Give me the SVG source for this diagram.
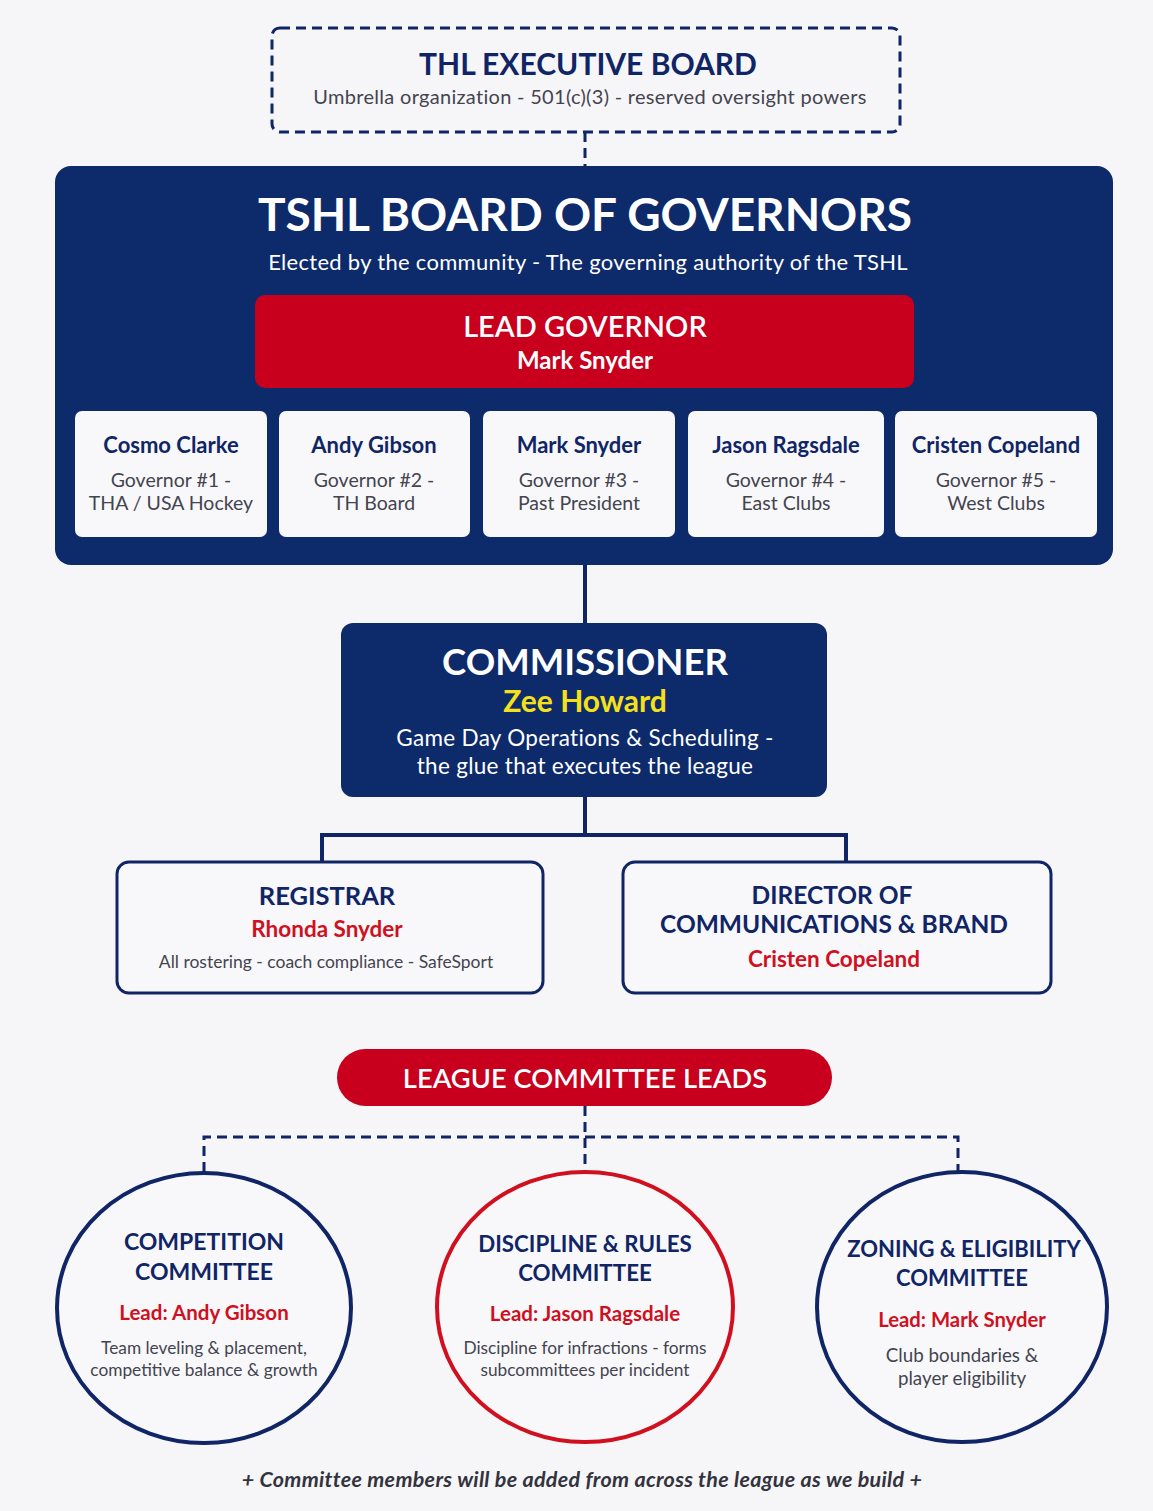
<svg xmlns="http://www.w3.org/2000/svg" width="1153" height="1511" viewBox="0 0 1153 1511">
<style>
text{font-family:Lato,"Open Sans","Liberation Sans",sans-serif;text-anchor:middle}
.navy{fill:#0d2a6b}
.red{fill:#c8001e}
.t-navy{fill:#102566;font-weight:700}
.t-red{fill:#d0101e;font-weight:700}
.t-grey{fill:#444450}
.t-white{fill:#ffffff}
.card{fill:#f8f8fa}
.dash{fill:none;stroke:#102566;stroke-width:3;stroke-dasharray:10 6}
.solid{fill:none;stroke:#102566;stroke-width:4}
</style>
<rect x="0" y="0" width="1153" height="1511" fill="#f6f6f8"/>

<g id="connectors">
<line class="dash" x1="585" y1="132" x2="585" y2="166"/>
<line class="solid" x1="585" y1="565" x2="585" y2="623"/>
<path class="solid" d="M585 797 V835 M322 835 H846 M322 833 V862 M846 833 V862"/>
<path class="dash" d="M585 1106 V1172 M204 1172 V1137 H958 V1172"/>
</g>

<g id="exec-board">
<rect x="272" y="28" width="628" height="104" rx="8" class="dash"/>
<text x="588" y="75" font-size="30" class="t-navy">THL EXECUTIVE BOARD</text>
<text x="590" y="104" font-size="20" letter-spacing="0.3" class="t-grey">Umbrella organization - 501(c)(3) - reserved oversight powers</text>
</g>

<g id="board-of-governors">
<rect x="55" y="166" width="1058" height="399" rx="16" class="navy"/>
<text x="585" y="231" font-size="46" font-weight="700" class="t-white">TSHL BOARD OF GOVERNORS</text>
<text x="588" y="270" font-size="22" letter-spacing="0.3" class="t-white">Elected by the community - The governing authority of the TSHL</text>
</g>

<g id="lead-governor">
<rect x="255" y="295" width="659" height="93" rx="10" class="red"/>
<text x="585" y="337" font-size="29" font-weight="600" class="t-white">LEAD GOVERNOR</text>
<text x="585" y="369" font-size="24" font-weight="700" class="t-white">Mark Snyder</text>
</g>

<g id="gov1">
<rect x="75" y="411" width="192" height="126" rx="7" class="card"/>
<text x="171" y="453" font-size="22" class="t-navy">Cosmo Clarke</text>
<text x="171" y="487" font-size="19.5" class="t-grey">Governor #1 -</text>
<text x="171" y="510" font-size="19.5" class="t-grey">THA / USA Hockey</text>
</g>
<g id="gov2">
<rect x="279" y="411" width="191" height="126" rx="7" class="card"/>
<text x="374" y="453" font-size="22" class="t-navy">Andy Gibson</text>
<text x="374" y="487" font-size="19.5" class="t-grey">Governor #2 -</text>
<text x="374" y="510" font-size="19.5" class="t-grey">TH Board</text>
</g>
<g id="gov3">
<rect x="483" y="411" width="192" height="126" rx="7" class="card"/>
<text x="579" y="453" font-size="22" class="t-navy">Mark Snyder</text>
<text x="579" y="487" font-size="19.5" class="t-grey">Governor #3 -</text>
<text x="579" y="510" font-size="19.5" class="t-grey">Past President</text>
</g>
<g id="gov4">
<rect x="688" y="411" width="196" height="126" rx="7" class="card"/>
<text x="786" y="453" font-size="22" class="t-navy">Jason Ragsdale</text>
<text x="786" y="487" font-size="19.5" class="t-grey">Governor #4 -</text>
<text x="786" y="510" font-size="19.5" class="t-grey">East Clubs</text>
</g>
<g id="gov5">
<rect x="895" y="411" width="202" height="126" rx="7" class="card"/>
<text x="996" y="453" font-size="22" class="t-navy">Cristen Copeland</text>
<text x="996" y="487" font-size="19.5" class="t-grey">Governor #5 -</text>
<text x="996" y="510" font-size="19.5" class="t-grey">West Clubs</text>
</g>

<g id="commissioner">
<rect x="341" y="623" width="486" height="174" rx="12" class="navy"/>
<text x="585" y="675" font-size="36.5" font-weight="700" class="t-white">COMMISSIONER</text>
<text x="585" y="712" font-size="30" font-weight="700" fill="#f5e11a">Zee Howard</text>
<text x="585" y="746" font-size="22.5" letter-spacing="0.3" class="t-white">Game Day Operations &amp; Scheduling -</text>
<text x="585" y="774" font-size="22.5" letter-spacing="0.3" class="t-white">the glue that executes the league</text>
</g>

<g id="registrar">
<rect x="117" y="862" width="426" height="131" rx="12" fill="#f8f8fa" stroke="#102566" stroke-width="3"/>
<text x="327" y="905" font-size="25.5" class="t-navy">REGISTRAR</text>
<text x="327" y="937" font-size="22.5" class="t-red">Rhonda Snyder</text>
<text x="326" y="968" font-size="17.5" class="t-grey">All rostering - coach compliance - SafeSport</text>
</g>

<g id="director-comms">
<rect x="623" y="862" width="428" height="131" rx="12" fill="#f8f8fa" stroke="#102566" stroke-width="3"/>
<text x="832" y="904" font-size="24.5" class="t-navy">DIRECTOR OF</text>
<text x="834" y="933" font-size="24.5" class="t-navy">COMMUNICATIONS &amp; BRAND</text>
<text x="834" y="967" font-size="22.5" class="t-red">Cristen Copeland</text>
</g>

<g id="league-committee-leads">
<rect x="337" y="1049" width="495" height="57" rx="28.5" class="red"/>
<text x="585" y="1088" font-size="27.3" font-weight="600" class="t-white">LEAGUE COMMITTEE LEADS</text>
</g>

<g id="competition-committee">
<ellipse cx="204" cy="1308" rx="147" ry="135" fill="#f8f8fa" stroke="#102566" stroke-width="4"/>
<text x="204" y="1250" font-size="23" class="t-navy">COMPETITION</text>
<text x="204" y="1280" font-size="23" class="t-navy">COMMITTEE</text>
<text x="204" y="1320" font-size="20.5" class="t-red">Lead: Andy Gibson</text>
<text x="204" y="1354" font-size="17.3" class="t-grey">Team leveling &amp; placement,</text>
<text x="204" y="1376" font-size="17.3" class="t-grey">competitive balance &amp; growth</text>
</g>

<g id="discipline-committee">
<ellipse cx="585" cy="1307" rx="148" ry="135" fill="#f8f8fa" stroke="#d0101e" stroke-width="4"/>
<text x="585" y="1252" font-size="22.3" class="t-navy">DISCIPLINE &amp; RULES</text>
<text x="585" y="1281" font-size="22.3" class="t-navy">COMMITTEE</text>
<text x="585" y="1321" font-size="20.5" class="t-red">Lead: Jason Ragsdale</text>
<text x="585" y="1354" font-size="17.3" class="t-grey">Discipline for infractions - forms</text>
<text x="585" y="1376" font-size="17.3" class="t-grey">subcommittees per incident</text>
</g>

<g id="zoning-committee">
<ellipse cx="962" cy="1307" rx="145" ry="135" fill="#f8f8fa" stroke="#102566" stroke-width="4"/>
<text x="964" y="1257" font-size="22" class="t-navy">ZONING &amp; ELIGIBILITY</text>
<text x="962" y="1286" font-size="22" class="t-navy">COMMITTEE</text>
<text x="962" y="1327" font-size="20.3" class="t-red">Lead: Mark Snyder</text>
<text x="962" y="1362" font-size="18.8" class="t-grey">Club boundaries &amp;</text>
<text x="962" y="1385" font-size="18.8" class="t-grey">player eligibility</text>
</g>

<g id="footer">
<text x="582" y="1487" font-size="21.5" font-weight="700" font-style="italic" letter-spacing="0.3" fill="#33333d">+ Committee members will be added from across the league as we build +</text>
</g>
</svg>
